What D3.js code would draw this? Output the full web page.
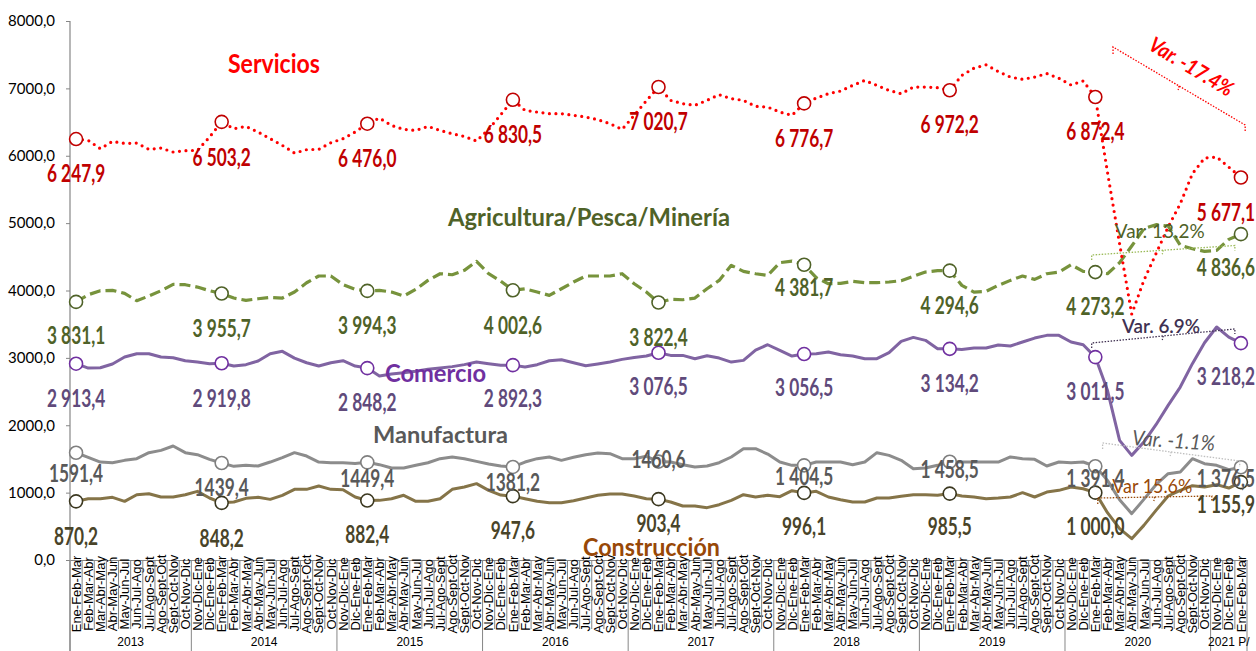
<!DOCTYPE html>
<html>
<head>
<meta charset="utf-8">
<script src="https://cdn.jsdelivr.net/npm/d3@7"></script>
<style>
  html, body { margin: 0; padding: 0; background: #fff; }
  svg { display: block; }
</style>
</head>
<body>
<svg id="chart" width="1256" height="651"></svg>
<script>
// Trimestres moviles por sector, 2013 - 2021 P/
const trimestres = ['Nov-Dic-Ene', 'Dic-Ene-Feb', 'Ene-Feb-Mar', 'Feb-Mar-Abr', 'Mar-Abr-May',
  'Abr-May-Jun', 'May-Jun-Jul', 'Jun-Jul-Ago', 'Jul-Ago-Sept', 'Ago-Sept-Oct', 'Sept-Oct-Nov', 'Oct-Nov-Dic'];
const anios = ['2013', '2014', '2015', '2016', '2017', '2018', '2019', '2020', '2021 P/'];
const primerTrimestre = [2, 0, 0, 0, 0, 0, 0, 0, 0];
const numTrimestres = [10, 12, 12, 12, 12, 12, 12, 12, 3];

const yTicks = [0, 1000, 2000, 3000, 4000, 5000, 6000, 7000, 8000];

const servicios = [
  6247.9, 6228, 6105, 6213, 6183, 6188, 6095, 6114, 6055, 6075, 6080, 6277,
  6503.2, 6401, 6436, 6352, 6253, 6154, 6040, 6090, 6095, 6193, 6253, 6352,
  6476.0, 6559, 6450, 6391, 6376, 6436, 6376, 6327, 6287, 6218, 6391, 6609,
  6830.5, 6673, 6648, 6624, 6624, 6600, 6575, 6535, 6476, 6392, 6600, 6816,
  7020.7, 6822, 6773, 6748, 6822, 6906, 6847, 6822, 6733, 6723, 6648, 6600,
  6776.7, 6856, 6921, 6960, 7044, 7118, 7044, 6970, 6920, 7019, 7019, 7010,
  6972.2, 7193, 7300, 7350, 7250, 7168, 7134, 7168, 7220, 7150, 7050, 7110,
  6872.4, 5758, 4694, 3650, 4150, 4546, 4942, 5288, 5733, 5966, 5981, 5832,
  5677.1
];
const agricultura = [
  3831.1, 3937, 3997, 4002, 3958, 3848, 3918, 3997, 4091, 4086, 4051, 3997,
  3955.7, 3888, 3854, 3878, 3898, 3888, 3977, 4115, 4215, 4215, 4086, 4017,
  3994.3, 4002, 3977, 3918, 4017, 4150, 4249, 4234, 4299, 4433, 4249, 4140,
  4002.6, 4026, 3977, 3928, 4026, 4126, 4215, 4215, 4215, 4249, 4101, 3977,
  3822.4, 3868, 3863, 3888, 4026, 4150, 4373, 4284, 4249, 4224, 4413, 4437,
  4381.7, 4190, 4101, 4106, 4136, 4116, 4116, 4126, 4145, 4210, 4274, 4294,
  4294.6, 4076, 3977, 3987, 4076, 4150, 4215, 4165, 4249, 4274, 4383, 4284,
  4273.2, 4249, 4413, 4660, 4917, 4977, 4957, 4670, 4620, 4581, 4596, 4759,
  4836.6
];
const comercio = [
  2913.4, 2849, 2854, 2909, 3012, 3062, 3062, 3012, 3002, 2958, 2938, 2913,
  2919.8, 2879, 2899, 2953, 3062, 3097, 2997, 2928, 2879, 2928, 2958, 2879,
  2848.2, 2731, 2760, 2780, 2800, 2830, 2850, 2870, 2900, 2938, 2913, 2889,
  2892.3, 2864, 2899, 2958, 2973, 2928, 2884, 2909, 2938, 2978, 3007, 3027,
  3076.5, 3037, 3037, 2988, 3032, 2997, 2938, 2963, 3116, 3195, 3111, 3027,
  3056.5, 3062, 3087, 3047, 3027, 2988, 2988, 3077, 3245, 3304, 3260, 3136,
  3134.2, 3126, 3146, 3146, 3191, 3176, 3235, 3294, 3334, 3334, 3235, 3195,
  3011.5, 2518, 1776, 1553, 1751, 2008, 2295, 2567, 2914, 3225, 3458, 3309,
  3218.2
];
const manufactura = [
  1591.4, 1524, 1454, 1444, 1479, 1504, 1593, 1627, 1692, 1593, 1563, 1494,
  1439.4, 1390, 1405, 1395, 1454, 1519, 1593, 1543, 1454, 1444, 1444, 1434,
  1449.4, 1415, 1365, 1365, 1405, 1444, 1504, 1529, 1504, 1464, 1425, 1395,
  1381.2, 1454, 1504, 1529, 1479, 1524, 1563, 1588, 1578, 1504, 1504, 1539,
  1460.6, 1454, 1415, 1380, 1395, 1444, 1529, 1652, 1652, 1573, 1454, 1405,
  1404.5, 1454, 1454, 1454, 1415, 1454, 1593, 1553, 1479, 1355, 1365, 1405,
  1458.5, 1454, 1454, 1454, 1454, 1529, 1504, 1494, 1395, 1454, 1444, 1454,
  1391.4, 1182, 895, 688, 900, 1118, 1281, 1306, 1504, 1430, 1405, 1340,
  1376.5
];
const construccion = [
  870.2, 910, 910, 930, 871, 969, 984, 935, 935, 969, 1019, 920,
  848.2, 861, 915, 930, 900, 960, 1049, 1049, 1098, 1049, 1044, 935,
  882.4, 885, 910, 960, 871, 871, 910, 1049, 1083, 1133, 1034, 964,
  947.6, 910, 871, 851, 851, 880, 920, 960, 979, 979, 949, 910,
  903.4, 861, 801, 801, 777, 821, 885, 969, 935, 960, 940, 1029,
  996.1, 1019, 935, 895, 861, 861, 920, 920, 945, 969, 969, 960,
  985.5, 950, 935, 910, 920, 935, 999, 935, 1009, 1034, 1083, 1058,
  1000.0, 702, 465, 317, 514, 737, 950, 1034, 1103, 1083, 1118, 1068,
  1155.9
];

// puntos con marcador y etiqueta (Ene-Feb-Mar de cada anio)
const indicesMarcados = [0, 12, 24, 36, 48, 60, 72, 84, 96];
// sin separador de miles en estas etiquetas de manufactura
const manufacturaSinEspacio = [0, 12, 24, 36, 48];

// variaciones Ene-Feb-Mar 2020 vs 2021
const variaciones = ['Var. -17.4%', 'Var: 13.2%', 'Var. 6.9%', 'Var. -1.1%', 'Var 15.6%'];

// ---------------------------------------------------------------
const width = 1256, height = 651;
const svg = d3.select('#chart');

const categorias = [];
anios.forEach((a, ai) => {
  trimestres.slice(primerTrimestre[ai], primerTrimestre[ai] + numTrimestres[ai]).forEach((t) => {
    categorias.push({ key: a + '|' + t, label: t, anio: a });
  });
});

const x = d3.scaleBand().domain(categorias.map((c) => c.key)).range([70, 1247]).padding(0);
const bw = x.bandwidth();
const cx = (i) => x(categorias[0].key) + (i + 0.5) * bw; // fractional index allowed
const y = d3.scaleLinear().domain([0, 8000]).range([560, 21]);

const es = d3.formatLocale({ decimal: ',', thousands: ' ', grouping: [3], currency: ['', ''] });
const fmtEtiqueta = es.format(',.1f');
const fmtSimple = es.format('.1f');

// ---- eje Y
const yAxis = svg.append('g')
  .attr('transform', 'translate(70,0)')
  .call(d3.axisLeft(y).tickValues(yTicks).tickSize(4).tickSizeOuter(0).tickFormat(fmtSimple));
yAxis.select('.domain').remove();
yAxis.selectAll('.tick line').attr('stroke', '#868686');
yAxis.selectAll('.tick text')
  .attr('x', -15)
  .attr('font-family', 'Lato, sans-serif')
  .attr('font-size', 15)
  .attr('fill', '#000');
svg.append('line')
  .attr('x1', 70).attr('x2', 70).attr('y1', y(8000)).attr('y2', height)
  .attr('stroke', '#868686').attr('stroke-width', 1.2);

// ---- eje X con categorias en dos niveles
const xAxis = svg.append('g')
  .attr('transform', 'translate(0,' + y(0) + ')')
  .call(d3.axisBottom(x).tickSize(0).tickFormat((k) => k.split('|')[1]));
xAxis.select('.domain').attr('stroke', '#868686').attr('stroke-width', 1.2);
xAxis.selectAll('.tick text')
  .attr('font-family', '"Liberation Sans Narrow", "Liberation Sans", sans-serif')
  .attr('font-size', 13)
  .attr('fill', '#000')
  .attr('text-anchor', 'middle')
  .attr('transform', 'rotate(-90)')
  .attr('x', -34)
  .attr('y', 0)
  .attr('dy', '0.36em');

const sep = svg.append('g').attr('stroke', '#868686').attr('stroke-width', 1);
let pos = 0;
anios.forEach((a, ai) => {
  for (let j = 0; j < numTrimestres[ai]; j++) {
    const k = categorias[pos + j].key;
    sep.append('line')
      .attr('x1', x(k)).attr('x2', x(k))
      .attr('y1', y(0)).attr('y2', j === 0 ? height : 629);
  }
  const x0 = x(categorias[pos].key);
  const x1 = x0 + numTrimestres[ai] * bw;
  svg.append('text')
    .attr('x', (x0 + x1) / 2)
    .attr('y', 646)
    .attr('text-anchor', 'middle')
    .attr('font-family', '"Liberation Sans Narrow", "Liberation Sans", sans-serif')
    .attr('font-size', 12)
    .text(a);
  pos += numTrimestres[ai];
});
sep.append('line')
  .attr('x1', 1247).attr('x2', 1247).attr('y1', y(0)).attr('y2', height);

// ---- series
const series = [
  { nombre: 'Servicios', datos: servicios, color: '#FF0000', marca: '#C00000', etiqueta: '#C00000',
    ancho: 3.2, dash: '0 6.5', cap: 'round',
    dy: [43, 44, 43, 43, 43, 44, 43, 43, 43.5] },
  { nombre: 'Agricultura/Pesca/Minería', datos: agricultura, color: '#77933C', marca: '#4F6228', etiqueta: '#4F6228',
    ancho: 3.2, dash: '11 5', cap: 'butt',
    dy: [42, 43.5, 43, 43.7, 43.5, 31, 43, 43, 42] },
  { nombre: 'Comercio', datos: comercio, color: '#8064A2', marca: '#7030A0', etiqueta: '#604A7B',
    ancho: 3, dash: null, cap: 'round',
    dy: [43, 44, 43, 42, 42, 42, 43, 43, 42] },
  { nombre: 'Manufactura', datos: manufactura, color: '#8C8C8C', marca: '#7F7F7F', etiqueta: '#595959',
    ancho: 3, dash: null, cap: 'round',
    dy: [29, 33, 25, 24, 6, 20, 16, 21, 20] },
  { nombre: 'Construcción', datos: construccion, color: '#857448', marca: '#3B3820', etiqueta: '#494429',
    ancho: 3, dash: null, cap: 'round',
    dy: [43.6, 44, 42.5, 43, 33, 42, 41.4, 42.4, 31] }
];

const line = d3.line().x((d, i) => cx(i)).y((d) => y(d));

const gLines = svg.append('g');
series.slice().reverse().forEach((s) => {
  gLines.append('path')
    .datum(s.datos)
    .attr('d', line)
    .attr('fill', 'none')
    .attr('stroke', s.color)
    .attr('stroke-width', s.ancho)
    .attr('stroke-linecap', s.cap)
    .attr('stroke-linejoin', 'round')
    .attr('stroke-dasharray', s.dash);
});

// marcadores
series.forEach((s) => {
  svg.append('g')
    .selectAll('circle')
    .data(indicesMarcados)
    .join('circle')
    .attr('cx', (i) => cx(i))
    .attr('cy', (i) => y(s.datos[i]))
    .attr('r', 6.5)
    .attr('fill', '#fff')
    .attr('stroke', s.marca)
    .attr('stroke-width', 1.6);
});

// ---- anotaciones de variacion (en coordenadas de indice / valor)
const corchetes = [
  { i0: 85.46, v0: 7614, i1: 96.35, v1: 6456, tick: 7, color: '#FF0000' },
  { i0: 83.7, v0: 4527, i1: 95.5, v1: 4668, tick: 5, color: '#9BBB59' },
  { i0: 83.7, v0: 3221, i1: 95.5, v1: 3429, tick: 5, color: '#403152' },
  { i0: 84.6, v0: 1737, i1: 95.9, v1: 1469, tick: 6, color: '#BFBFBF' },
  { i0: 84.2, v0: 920, i1: 93.6, v1: 950, tick: 6, color: '#984807' }
];
const gCor = svg.append('g');
corchetes.forEach((c) => {
  const xa = cx(c.i0), ya = y(c.v0), xb = cx(c.i1), yb = y(c.v1);
  const xm = (xa + xb) / 2, ym = (ya + yb) / 2;
  gCor.append('path')
    .attr('d', `M${xa},${ya + c.tick}L${xa},${ya}L${xb},${yb}L${xb},${yb + c.tick}M${xm},${ym}L${xm - 1},${ym + 4}`)
    .attr('fill', 'none')
    .attr('stroke', c.color)
    .attr('stroke-width', 1.3)
    .attr('stroke-dasharray', '1.5 1.5');
});

const textosVar = [
  { i: 91.6, v: 7230, rot: 31, size: 21, weight: 700, italic: true, len: 94, color: '#FF0000', anchor: 'middle' },
  { i: 85.6, v: 4779, rot: 0, size: 20, weight: 400, italic: false, len: 90, color: '#4F6228', anchor: 'start' },
  { i: 86.2, v: 3369, rot: 0, size: 20, weight: 600, italic: false, len: 78, color: '#403152', anchor: 'start' },
  { i: 87.0, v: 1707, rot: 4, size: 21, weight: 400, italic: true, len: 83, color: '#595959', anchor: 'start' },
  { i: 85.4, v: 994, rot: 0, size: 20, weight: 400, italic: false, len: 80, color: '#984807', anchor: 'start' }
];
textosVar.forEach((t, k) => {
  svg.append('text')
    .attr('transform', `translate(${cx(t.i)},${y(t.v)}) rotate(${t.rot})`)
    .attr('text-anchor', t.anchor)
    .attr('font-family', 'Lato, sans-serif')
    .attr('font-size', t.size)
    .attr('font-weight', t.weight)
    .attr('font-style', t.italic ? 'italic' : 'normal')
    .attr('fill', t.color)
    .attr('textLength', t.len)
    .attr('lengthAdjust', 'spacingAndGlyphs')
    .text(variaciones[k]);
});

// ---- etiquetas de valores
series.forEach((s, si) => {
  indicesMarcados.forEach((idx, n) => {
    const txt = (si === 3 && manufacturaSinEspacio.includes(idx)) ? fmtSimple(s.datos[idx]) : fmtEtiqueta(s.datos[idx]);
    const px = idx === 96 ? cx(idx) - 15 : cx(idx);
    svg.append('text')
      .attr('transform', `translate(${px},${y(s.datos[idx]) + s.dy[n]}) scale(0.72,1)`)
      .attr('text-anchor', 'middle')
      .attr('font-family', 'Lato, sans-serif')
      .attr('font-size', 24)
      .attr('font-weight', 700)
      .attr('fill', s.etiqueta)
      .text(txt);
  });
});

// ---- nombres de sector
const titulos = [
  { x: 228, y: 73, len: 92, size: 26, color: '#FF0000' },
  { x: 448, y: 226, len: 282, size: 25, color: '#4F6228' },
  { x: 385, y: 382, len: 101, size: 24, color: '#7030A0' },
  { x: 373, y: 443, len: 135, size: 23, color: '#595959' },
  { x: 583, y: 556, len: 137, size: 25, color: '#984807' }
];
titulos.forEach((t, k) => {
  svg.append('text')
    .attr('x', t.x)
    .attr('y', t.y)
    .attr('font-family', 'Lato, sans-serif')
    .attr('font-size', t.size)
    .attr('font-weight', 700)
    .attr('fill', t.color)
    .attr('textLength', t.len)
    .attr('lengthAdjust', 'spacingAndGlyphs')
    .text(series[k].nombre);
});
</script>
</body>
</html>
